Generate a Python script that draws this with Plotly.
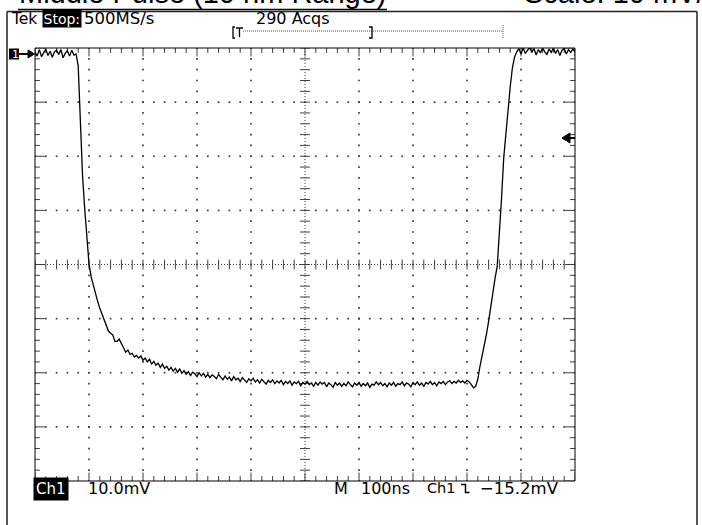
import numpy as np
import plotly.graph_objects as go

# ---- Acquisition: Ch1, 10 mV/div, 100 ns/div, one sample every 4 ns ----
SAMPLE_NS = 4
volts_mv = [
    0.3, -0.5, 0.7, -0.6, 0.1, 0.8, -0.4, 0.4, -0.7, 0.3,
    0.6, -0.2, 0.7, -0.8, 0.0, 0.5, -0.5, 0.6, -0.3, -0.1,
    -2.3, -12.0, -22.5, -28.6, -33.8, -38.9, -41.3, -43.0, -44.5, -45.8,
    -47.1, -48.2, -49.3, -50.4, -51.3, -51.7, -52.0, -53.2, -53.2, -52.8,
    -53.7, -54.5, -55.2, -54.8, -55.6, -55.4, -56.1, -55.8, -56.3, -55.9,
    -56.7, -56.3, -57.0, -56.5, -57.4, -56.9, -57.6, -57.2, -58.0, -57.4,
    -58.2, -57.8, -58.5, -58.0, -58.7, -58.2, -58.9, -58.3, -59.1, -58.6,
    -59.3, -58.8, -59.5, -58.9, -59.2, -59.7, -59.0, -59.6, -59.1, -59.8,
    -59.3, -59.9, -59.4, -59.7, -60.1, -59.3, -59.9, -60.3, -59.6, -60.2,
    -59.8, -60.5, -59.7, -60.3, -60.0, -60.6, -59.9, -60.4, -60.8, -60.1,
    -60.5, -60.0, -60.7, -60.3, -60.9, -60.2, -60.6, -61.1, -60.4, -60.8,
    -60.3, -61.0, -60.5, -60.9, -60.4, -61.2, -60.6, -61.0, -60.5, -61.3,
    -60.7, -61.0, -60.6, -61.4, -60.8, -61.1, -60.6, -61.2, -60.9, -61.5,
    -60.8, -61.3, -60.7, -61.1, -60.8, -61.6, -60.9, -61.2, -61.7, -60.8,
    -61.3, -60.9, -61.5, -61.0, -61.4, -60.7, -61.2, -61.6, -60.9, -61.3,
    -60.8, -61.5, -61.0, -61.4, -60.9, -61.7, -61.1, -61.3, -60.7, -61.2,
    -60.8, -61.4, -61.0, -61.6, -60.9, -61.3, -60.8, -61.5, -61.0, -61.2,
    -60.7, -61.4, -60.9, -61.1, -61.6, -60.8, -61.2, -60.7, -61.3, -60.9,
    -61.5, -60.8, -61.1, -60.6, -61.2, -60.8, -61.4, -60.7, -61.0, -60.6,
    -61.2, -60.7, -60.5, -61.0, -60.6, -60.9, -60.4, -60.8, -60.5, -60.9,
    -60.4, -60.7, -61.2, -61.8, -61.5, -60.2, -57.8, -55.9, -54.1, -51.9,
    -49.5, -46.7, -44.3, -41.5, -39.3, -33.8, -26.7, -19.3, -14.7, -10.1,
    -6.2, -2.7, -0.7, 0.3, 0.9, -0.1, 1.0, 0.0, 0.6, 1.1,
    0.2, 0.9, -0.3, 0.7, 0.1, 1.0, 0.3, -0.2, 0.8, 0.2,
    1.0, 0.0, 0.7, -0.4, 0.6, 0.9, -0.1, 0.7, 0.2, 0.8,
    0.3,
]
time_ns = np.arange(len(volts_mv)) * SAMPLE_NS

# ---- Screen scales ----
T_RANGE = [0, 1000]        # 10 div x 100 ns
V_RANGE = [-79, 1]         # 8 div x 10 mV, ground just under the top edge
T_DIV, V_DIV, SUBDIV = 100, 10, 5

# ---- Readout texts ----
title_text = "Middle Pulse (10 nm Range)"
scale_text = "Scale: 10 mV/div"
hdr_brand, hdr_state, hdr_rate, hdr_acqs = "Tek", "Stop:", "500MS/s", "290 Acqs"
ch_label, ch_scale = "Ch1", "10.0mV"
tb_mode, tb_scale, trig_src, trig_level = "M", "100ns", "Ch1", "\u221215.2mV"

W, H = 702, 525
L, R, T, B = 35, 575, 48, 481      # graticule box in page pixels
TEK_FONT = "DejaVu Sans, Verdana, sans-serif"
INK = "black"
DOT = "#3c3c3c"


def px(x):
    return (x - L) / (R - L)


def py(y):
    return (B - y) / (B - T)


fig = go.Figure()

# ---- Graticule ----
t_minor = np.arange(T_RANGE[0], T_RANGE[1] + 1, T_DIV / SUBDIV)
v_minor = np.arange(V_RANGE[1], V_RANGE[0] - 0.5, -V_DIV / SUBDIV)
t_major = np.arange(T_RANGE[0] + T_DIV, T_RANGE[1], T_DIV)
v_major = np.arange(V_RANGE[1] - V_DIV, V_RANGE[0], -V_DIV)
t_mid = (T_RANGE[0] + T_RANGE[1]) / 2
v_mid = (V_RANGE[0] + V_RANGE[1]) / 2

dot_x, dot_y = [], []
for tv in t_major:
    if tv == t_mid:
        continue
    dot_x += [tv] * len(v_minor)
    dot_y += list(v_minor)
for vv in v_major:
    if vv == v_mid:
        continue
    dot_x += list(t_minor)
    dot_y += [vv] * len(t_minor)
fig.add_trace(go.Scatter(x=dot_x, y=dot_y, mode="markers", hoverinfo="skip",
                         marker=dict(symbol="square", size=1.7, color=DOT,
                                     line=dict(width=0))))

# center cross, finely dotted
fig.add_shape(type="line", x0=t_mid, x1=t_mid, y0=V_RANGE[0], y1=V_RANGE[1],
              line=dict(color=DOT, width=1, dash="1px,2px"))
fig.add_shape(type="line", x0=T_RANGE[0], x1=T_RANGE[1], y0=v_mid, y1=v_mid,
              line=dict(color=DOT, width=1, dash="1px,2px"))


def tick_marks(xs, ys, symbol, size):
    fig.add_trace(go.Scatter(
        x=xs, y=ys, mode="markers", hoverinfo="skip", cliponaxis=True,
        marker=dict(symbol=symbol, size=size, color=DOT,
                    line=dict(width=1, color=DOT))))


# sub-division ticks on the center cross
tick_marks([t_mid] * len(v_minor), list(v_minor), "line-ew", 7)
tick_marks(list(t_minor), [v_mid] * len(t_minor), "line-ns", 7)

# ticks along the four edges (longer at full divisions)
edge_t_major = [t for t in t_minor if t % T_DIV == 0]
edge_t_minor = [t for t in t_minor if t % T_DIV != 0]
edge_v_major = [v for v in v_minor if (V_RANGE[1] - v) % V_DIV == 0]
edge_v_minor = [v for v in v_minor if (V_RANGE[1] - v) % V_DIV != 0]
for vy in V_RANGE:
    tick_marks(edge_t_minor, [vy] * len(edge_t_minor), "line-ns", 7)
    tick_marks(edge_t_major, [vy] * len(edge_t_major), "line-ns", 12)
for tx in T_RANGE:
    tick_marks([tx] * len(edge_v_minor), edge_v_minor, "line-ew", 7)
    tick_marks([tx] * len(edge_v_major), edge_v_major, "line-ew", 14)

# ---- Waveform ----
fig.add_trace(go.Scatter(x=time_ns, y=volts_mv, mode="lines", hoverinfo="skip",
                         line=dict(color=INK, width=1.3)))

# ---- Frame lines ----
shapes = [
    dict(type="rect", xref="paper", yref="paper", x0=0, x1=1, y0=0, y1=1,
         line=dict(color=INK, width=1)),
    dict(type="line", xref="paper", yref="paper", x0=px(7), x1=px(7), y0=py(11.5), y1=py(525),
         line=dict(color="#222", width=1.5)),
    dict(type="line", xref="paper", yref="paper", x0=px(697), x1=px(697), y0=py(11.5), y1=py(525),
         line=dict(color="#222", width=1.5)),
    dict(type="line", xref="paper", yref="paper", x0=px(7), x1=px(697), y0=py(11.5), y1=py(11.5),
         line=dict(color="#222", width=1.5)),
    # title underline
    dict(type="line", xref="paper", yref="paper", x0=px(18), x1=px(387), y0=py(9.5), y1=py(9.5),
         line=dict(color=INK, width=1.5)),
]


def path_px(points, close=False):
    s = "M " + " L ".join(f"{px(x):.5f},{py(y):.5f}" for x, y in points)
    return s + (" Z" if close else "")


# record bar: [T ..... ] ..... |
shapes += [
    dict(type="path", xref="paper", yref="paper",
         path=path_px([(235, 27), (233, 27), (233, 38), (235, 38)]),
         line=dict(color=INK, width=1.3)),
    dict(type="path", xref="paper", yref="paper",
         path=path_px([(236, 28), (243, 28)]) + " " + path_px([(239.5, 28), (239.5, 37)]),
         line=dict(color=INK, width=1.3)),
    dict(type="line", xref="paper", yref="paper", x0=px(243), x1=px(503), y0=py(31), y1=py(31),
         line=dict(color="#555", width=1, dash="1px,1px")),
    dict(type="path", xref="paper", yref="paper",
         path=path_px([(369, 27), (372, 27), (372, 38), (369, 38)]),
         line=dict(color=INK, width=1.3)),
    dict(type="line", xref="paper", yref="paper", x0=px(503), x1=px(503), y0=py(25), y1=py(38),
         line=dict(color="#555", width=1, dash="1px,1px")),
]

# channel ground marker "1 ->"
shapes += [
    dict(type="rect", xref="paper", yref="paper", x0=px(9), x1=px(19), y0=py(48.5), y1=py(59.5),
         fillcolor=INK, line=dict(width=0)),
    dict(type="line", xref="paper", yref="paper", x0=px(19), x1=px(30), y0=py(54), y1=py(54),
         line=dict(color=INK, width=2)),
    dict(type="path", xref="paper", yref="paper",
         path=path_px([(28, 50), (34.5, 54), (28, 58)], close=True),
         fillcolor=INK, line=dict(color=INK, width=1)),
]

# trigger level marker on the right edge
shapes += [
    dict(type="path", xref="paper", yref="paper",
         path=path_px([(570, 133), (562, 138), (570, 143)], close=True),
         fillcolor=INK, line=dict(color=INK, width=1)),
    dict(type="line", xref="paper", yref="paper", x0=px(569), x1=px(575), y0=py(138), y1=py(138),
         line=dict(color=INK, width=2)),
]

# falling-slope trigger glyph
shapes.append(dict(type="path", xref="paper", yref="paper",
                   path=path_px([(461, 484.5), (465.5, 484.5), (465.5, 492.5), (469.5, 492.5)]),
                   line=dict(color=INK, width=1.5)))

for s in shapes:
    fig.add_shape(**s)


def note(text, x, y, size=15, color=INK, bg=None, family=TEK_FONT,
         yanchor="middle", pad=1):
    fig.add_annotation(text=text, xref="paper", yref="paper", x=px(x), y=py(y),
                       xanchor="left", yanchor=yanchor, showarrow=False,
                       font=dict(family=family, size=size, color=color),
                       bgcolor=bg, borderpad=pad)


# document heading above the screen (clipped by the page top)
note(title_text, 17, 11.4, size=29, family="Liberation Sans, Arial, sans-serif",
     yanchor="bottom")
note(scale_text, 522, 11.4, size=29, family="Liberation Sans, Arial, sans-serif",
     yanchor="bottom")

# header readout
note(hdr_brand, 9, 19, size=15.5)
note(hdr_state, 42, 19, size=14, color="white", bg=INK, pad=0.5)
note(hdr_rate, 82, 19, size=16.5)
note(hdr_acqs, 254, 19, size=16)
note("1", 10, 54, size=11, color="white")

# bottom readout
note(ch_label, 33, 488.5, size=15, color="white", bg=INK, pad=2)
note(ch_scale, 86, 488, size=16)
note(tb_mode, 332, 488, size=16)
note(tb_scale, 359, 488, size=16)
note(trig_src, 425, 488, size=14.5)
note(trig_level, 478, 488, size=16.5)

fig.update_xaxes(range=T_RANGE, visible=False, fixedrange=True)
fig.update_yaxes(range=V_RANGE, visible=False, fixedrange=True)
fig.update_layout(width=W, height=H, showlegend=False,
                  margin=dict(l=L, r=W - R, t=T, b=H - B, pad=0),
                  paper_bgcolor="white", plot_bgcolor="white")

fig.write_html("out.html")
